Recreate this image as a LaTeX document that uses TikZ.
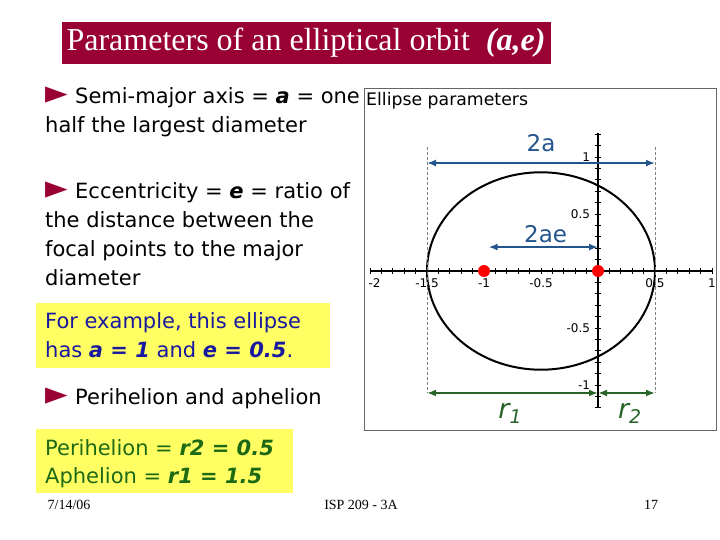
\documentclass[tikz,border=0pt]{standalone}
\usepackage{fontspec}
\usepackage{graphicx}
\setmainfont{DejaVu Sans}
\newfontfamily\slideserif{Liberation Serif}
\usetikzlibrary{arrows.meta}

\definecolor{slidered}{RGB}{153,0,51}
\definecolor{noteyellow}{RGB}{255,255,100}
\definecolor{noteblue}{RGB}{25,25,160}
\definecolor{notegreen}{RGB}{30,105,20}
\definecolor{dimblue}{RGB}{36,84,140}
\definecolor{dimgreen}{RGB}{40,100,40}

\tikzset{
	body/.style = {anchor = base west, inner sep = 0pt, align = left, font = \fontsize{21}{29}\selectfont},
	foot/.style = {font = \slideserif\fontsize{14}{14}\selectfont},
	ticklabel/.style = {font = \fontsize{12}{12}\selectfont, inner sep = 1pt},
	axis/.style = {line width = 2.2pt},
	guide/.style = {densely dashed, gray, line width = 0.8pt},
	dimension/.style = {{Latex[length = 9pt, width = 7pt]}-{Latex[length = 9pt, width = 7pt]}, line width = 1.8pt},
	focus/.style = {circle, fill = red, inner sep = 0pt, minimum size = 12pt}
}
\newcommand{\slidebullet}{\makebox[30pt][l]{\textcolor{slidered}{\scalebox{1.4}[1.55]{►}}}}

\begin{document}
\begin{tikzpicture}[x = 1pt, y = -1pt]
	
	\useasboundingbox (0, 0) rectangle (720, 540);
	
	\node[fill = slidered, text = white, minimum width = 489pt, minimum height = 42pt, inner sep = 0pt, font = \slideserif\fontsize{32}{32}\selectfont] (title) at (306, 43) {Parameters of an elliptical orbit\ \ \textbf{\textit{(a,e)}}};
	
	\node[body] (semimajor) at (45, 133) {\slidebullet Semi-major axis = \textbf{\textit{a}} = one\\half the largest diameter};
	\node[body] (eccentricity) at (45, 285) {\slidebullet Eccentricity = \textbf{\textit{e}} = ratio of\\the distance between the\\focal points to the major\\diameter};
	
	\fill[noteyellow] (36, 303) rectangle (330, 368);
	\node[body, text = noteblue] (example) at (45, 357) {For example, this ellipse\\has \textbf{\textit{a = 1}} and \textbf{\textit{e = 0.5}}.};
	
	\node[body] (perihelion) at (45, 404) {\slidebullet Perihelion and aphelion};
	
	\fill[noteyellow] (36, 429) rectangle (293, 493);
	\node[body, text = notegreen, font = \fontsize{21}{28}\selectfont] (values) at (45, 483) {Perihelion = \textbf{\textit{r2 = 0.5}}\\Aphelion = \textbf{\textit{r1 = 1.5}}};
	
	\node[foot] (date) at (69, 505) {7/14/06};
	\node[foot] (course) at (361, 505) {ISP 209 - 3A};
	\node[foot] (page) at (651, 505) {17};
	
	% ellipse panel
	\draw[gray!80!black, line width = 0.8pt] (364, 88) rectangle (716, 430);
	\node[anchor = base west, inner sep = 0pt, font = \fontsize{17.3}{17.3}\selectfont] (paneltitle) at (366, 106) {Ellipse parameters};
	
	\begin{scope}[shift = {(598, 271)}, x = 114pt, y = 114pt]
		
		\coordinate (xmin) at (-2, 0);
		\coordinate (xmax) at (1.01, 0);
		\coordinate (ymin) at (0, -1.19);
		\coordinate (ymax) at (0, 1.21);
		\draw[axis] (xmin) -- (xmax);
		\draw[axis] (ymin) -- (ymax);
		\foreach \t in {-20, ..., 10} \draw[line width = 0.8pt] (\t/10, -0.025) -- (\t/10, 0.025);
		\foreach \t in {-12, ..., 12} \draw[line width = 0.8pt] (-0.025, \t/10) -- (0.025, \t/10);
		
		\node[ticklabel] (xm2) at (-1.96, -0.105) {-2};
		\node[ticklabel] (xm15) at (-1.5, -0.105) {-1.5};
		\node[ticklabel] (xm1) at (-1, -0.105) {-1};
		\node[ticklabel] (xm05) at (-0.5, -0.105) {-0.5};
		\node[ticklabel] (xp05) at (0.5, -0.105) {0.5};
		\node[ticklabel] (xp1) at (1.0, -0.105) {1};
		\node[ticklabel, anchor = east] (yp1) at (-0.06, 1) {1};
		\node[ticklabel, anchor = east] (yp05) at (-0.06, 0.5) {0.5};
		\node[ticklabel, anchor = east] (ym05) at (-0.06, -0.5) {-0.5};
		\node[ticklabel, anchor = east] (ym1) at (-0.06, -1) {-1};
		
		\draw[line width = 2pt] (-0.5, 0) ellipse [x radius = 1, y radius = 0.866];
		
		\node[focus] (focus1) at (-1, 0) {};
		\node[focus] (focus2) at (0, 0) {};
		
		\coordinate (leftTop) at (-1.5, 1.09);
		\coordinate (leftBottom) at (-1.5, -1.07);
		\coordinate (rightTop) at (0.5, 1.09);
		\coordinate (rightBottom) at (0.5, -1.07);
		\draw[guide] (leftTop) -- (leftBottom);
		\draw[guide] (rightTop) -- (rightBottom);
		
		\coordinate (majorL) at (-1.5, 0.947);
		\coordinate (majorR) at (0.5, 0.947);
		\coordinate (focalL) at (-0.96, 0.21);
		\coordinate (focalR) at (0, 0.21);
		\coordinate (rL) at (-1.5, -1.07);
		\coordinate (rM) at (0, -1.07);
		\coordinate (rR) at (0.5, -1.07);
		
		\path[dimension, dimblue] (majorL) edge (majorR);
		\path[dimension, dimblue] (focalL) edge (focalR);
		\path[dimension, dimgreen] (rL) edge (rM);
		\path[dimension, dimgreen] (rM) edge (rR);
		
		\node[text = dimblue, font = \fontsize{23}{23}\selectfont] (twoA) at (-0.5, 1.12) {2a};
		\node[text = dimblue, font = \fontsize{23}{23}\selectfont] (twoAE) at (-0.46, 0.32) {2ae};
		\node[text = dimgreen, font = \fontsize{27}{27}\selectfont\itshape] (rOne) at (-0.77, -1.25) {r\textsubscript{1}};
		\node[text = dimgreen, font = \fontsize{27}{27}\selectfont\itshape] (rTwo) at (0.28, -1.25) {r\textsubscript{2}};
		
	\end{scope}
	
\end{tikzpicture}
\end{document}
